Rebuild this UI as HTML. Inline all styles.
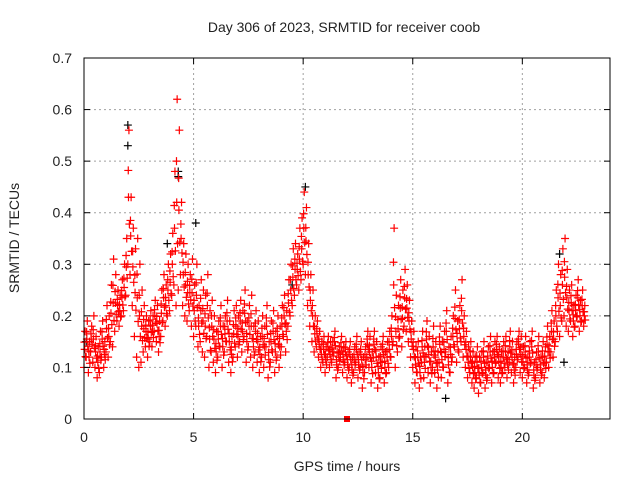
<!DOCTYPE html>
<html><head><meta charset="utf-8"><style>
body{margin:0;background:#fff}
svg text{font-family:"Liberation Sans",sans-serif;fill:#222}
</style></head><body>
<svg id="c" width="640" height="480" xmlns="http://www.w3.org/2000/svg">
<text x="344" y="32" font-size="14" text-anchor="middle">Day 306 of 2023, SRMTID for receiver coob</text>
<text x="347" y="471" font-size="14" text-anchor="middle">GPS time / hours</text>
<text x="19" y="238" font-size="14" text-anchor="middle" transform="rotate(-90 19 238)">SRMTID / TECUs</text>
<g id="grid"></g><g id="pts"></g><g id="axes"></g>
</svg>
<script>
const xTicks=[0,5,10,15,20];
const yTicks=[0,0.1,0.2,0.3,0.4,0.5,0.6,0.7];
const yTickLabels=["0","0.1","0.2","0.3","0.4","0.5","0.6","0.7"];
const redLo=[.10,.12,.09,.13,.11,.10,.08,.09,.12,.10,.13,.12,.15,.14,.17,.19,.18,.20,.21,.24,.30,.28,.22,.16,.12,.10,.11,.13,.14,.12,.15,.14,.17,.15,.13,.16,.19,.18,.20,.21,.24,.26,.22,.25,.28,.22,.20,.19,.21,.18,.16,.18,.14,.15,.13,.12,.16,.10,.13,.11,.09,.12,.14,.10,.13,.15,.11,.09,.12,.14,.12,.15,.13,.16,.11,.14,.12,.10,.13,.11,.09,.12,.10,.14,.08,.11,.13,.09,.12,.10,.14,.16,.13,.18,.20,.22,.24,.26,.25,.27,.30,.28,.22,.18,.15,.13,.14,.12,.10,.11,.09,.12,.10,.11,.13,.08,.10,.12,.09,.11,.08,.10,.07,.09,.11,.08,.10,.06,.09,.12,.10,.07,.12,.09,.06,.08,.11,.07,.09,.10,.12,.15,.10,.13,.16,.14,.18,.17,.15,.12,.10,.07,.09,.06,.11,.08,.12,.09,.07,.10,.09,.06,.11,.08,.10,.13,.07,.09,.12,.14,.11,.13,.15,.12,.10,.08,.09,.07,.06,.08,.05,.07,.09,.06,.08,.10,.07,.09,.11,.08,.07,.09,.10,.08,.11,.09,.07,.10,.12,.09,.08,.10,.07,.09,.11,.06,.08,.10,.07,.09,.08,.11,.10,.13,.12,.15,.17,.16,.19,.20,.18,.17,.19,.16,.18,.20,.17,.19,.18];
const redHi=[.17,.19,.15,.18,.20,.16,.14,.17,.19,.15,.22,.20,.26,.31,.28,.25,.24,.27,.30,.35,.56,.43,.37,.33,.35,.30,.25,.22,.20,.19,.21,.20,.23,.22,.19,.25,.28,.26,.30,.32,.36,.48,.62,.56,.42,.34,.32,.30,.28,.31,.26,.30,.22,.27,.25,.24,.28,.21,.23,.20,.17,.19,.22,.18,.20,.23,.19,.16,.21,.22,.20,.23,.21,.25,.19,.22,.24,.18,.21,.19,.16,.20,.18,.22,.15,.19,.21,.17,.20,.18,.22,.24,.21,.27,.30,.33,.34,.32,.37,.39,.44,.41,.34,.28,.25,.20,.19,.17,.15,.16,.14,.16,.15,.15,.17,.13,.14,.16,.14,.15,.13,.15,.12,.14,.16,.13,.15,.12,.14,.17,.16,.13,.17,.15,.12,.14,.16,.13,.15,.17,.20,.37,.24,.22,.27,.25,.29,.26,.23,.19,.17,.14,.15,.12,.17,.14,.19,.16,.13,.18,.15,.13,.18,.15,.17,.21,.14,.16,.20,.25,.19,.22,.27,.20,.17,.14,.15,.13,.12,.14,.12,.13,.15,.11,.14,.16,.13,.15,.16,.14,.13,.15,.16,.13,.17,.15,.12,.15,.17,.16,.14,.16,.12,.15,.17,.11,.13,.16,.12,.15,.14,.18,.16,.21,.19,.25,.30,.28,.33,.35,.29,.25,.26,.22,.24,.27,.23,.25,.22];
const blackX=[2.0,2.0,4.3,4.3,3.8,5.1,10.1,21.7,21.9,16.5,9.5,0.1];
const blackY=[.57,.53,.48,.47,.34,.38,.45,.32,.11,.04,.26,.15];
const L=84,R=610,T=58,B=419,XMAX=24,YMAX=0.7;
const sx=v=>L+(R-L)*v/XMAX, sy=v=>B-(B-T)*v/YMAX;
const NS="http://www.w3.org/2000/svg";
function mk(tag,attrs,parent){const e=document.createElementNS(NS,tag);for(const k in attrs)e.setAttribute(k,attrs[k]);parent.appendChild(e);return e;}
const grid=document.getElementById('grid'),pts=document.getElementById('pts'),axes=document.getElementById('axes');
xTicks.forEach(t=>{const x=sx(t);
 if(t>0){const g=mk('line',{x1:x,x2:x,y1:T,y2:B,stroke:'#a0a0a0','stroke-dasharray':'2,3'},grid);}
 const k=mk('line',{x1:x,x2:x,y1:B,y2:B-6,stroke:'#000'},axes);
 const k2=mk('line',{x1:x,x2:x,y1:T,y2:T+6,stroke:'#000'},axes);
 const tx=mk('text',{x:x,y:B+23,'font-size':14,'text-anchor':'middle'},axes);tx.textContent=t;});
yTicks.forEach((t,i)=>{const y=sy(t);
 if(t>0&&t<YMAX-1e-9){const g=mk('line',{x1:L,x2:R,y1:y,y2:y,stroke:'#a0a0a0','stroke-dasharray':'2,3'},grid);}
 const k=mk('line',{x1:L,x2:L+6,y1:y,y2:y,stroke:'#000'},axes);
 const k2=mk('line',{x1:R,x2:R-6,y1:y,y2:y,stroke:'#000'},axes);
 const tx=mk('text',{x:L-12,y:y+5,'font-size':14,'text-anchor':'end'},axes);tx.textContent=yTickLabels[i];});
const fr=mk('rect',{x:L,y:T,width:R-L,height:B-T,fill:'none',stroke:'#000'},axes);


function cross(x,y,col,name){const p=mk('path',{d:`M${x-4} ${y}h8M${x} ${y-4}v8`,stroke:col,'stroke-width':1.2,fill:'none'},pts);
 
 }
blackX.forEach((t,i)=>cross(sx(t),sy(blackY[i]),'#000','black-point'));
redLo.forEach((v,i)=>{const t=i*0.1,h=redHi[i];
 cross(sx(t),sy(v),'#f00','red-point');
 cross(sx(t+0.05),sy(h),'#f00','red-point');
 cross(sx(t+0.03),sy((v+h)/2),'#f00','red-point');
 cross(sx(t+0.07),sy(v*0.7+h*0.3),'#f00','red-point');
 cross(sx(t+0.02),sy(v*0.3+h*0.7),'#f00','red-point');});
const sq=mk('rect',{x:sx(12)-3,y:sy(0)-3,width:6,height:6,fill:'#f00'},pts);


</script>
</body></html>
